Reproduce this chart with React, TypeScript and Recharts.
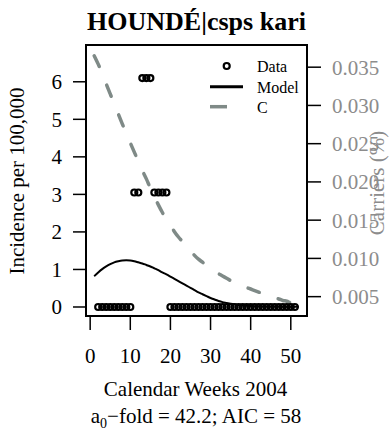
import React from "react";
import {
  ComposedChart,
  XAxis,
  YAxis,
  Line,
  Scatter,
  ReferenceArea,
  Customized,
} from "recharts";

const FONT = "'Liberation Serif', 'Times New Roman', Times, serif";
const GRAY_LINE = "#7f8a87";
const GRAY_TEXT = "#8c8c8c";

const weeks = [
  1, 2, 3, 4, 5, 6, 7, 8, 9, 10, 11, 12, 13, 14, 15, 16, 17, 18, 19, 20, 21, 22, 23, 24, 25, 26,
  27, 28, 29, 30, 31, 32, 33, 34, 35, 36, 37, 38, 39, 40, 41, 42, 43, 44, 45, 46, 47, 48, 49, 50,
  51, 52,
];
const modelValues = [
  0.82, 0.92, 1.01, 1.08, 1.14, 1.19, 1.22, 1.24, 1.245, 1.24, 1.22, 1.19, 1.16, 1.12, 1.08, 1.03,
  0.98, 0.92, 0.87, 0.81, 0.75, 0.69, 0.63, 0.57, 0.51, 0.45, 0.39, 0.34, 0.29, 0.24, 0.2, 0.16,
  0.13, 0.11, 0.09, 0.07, 0.05, 0.04, 0.03, 0.025, 0.02, 0.018, 0.015, 0.013, 0.012, 0.011, 0.01,
  0.009, 0.008, 0.008, 0.007, 0.007,
];
const carrierValues = [
  0.0365, 0.0354, 0.0342, 0.0328, 0.0315, 0.0302, 0.0289, 0.0276, 0.0263, 0.0251, 0.0239, 0.0227,
  0.0215, 0.0204, 0.0192, 0.0181, 0.017, 0.016, 0.0151, 0.0143, 0.0135, 0.0128, 0.0122, 0.0116,
  0.011, 0.0104, 0.0099, 0.0095, 0.0091, 0.0087, 0.0083, 0.008, 0.0077, 0.0074, 0.0071, 0.0069,
  0.0066, 0.0064, 0.0062, 0.006, 0.0058, 0.0056, 0.0054, 0.0052, 0.005, 0.0048, 0.0047, 0.0045,
  0.0044, 0.0042, 0.0041, 0.004,
];

const dataWeeks = [
  2, 3, 4, 5, 6, 7, 8, 9, 10, 11, 12, 13, 14, 15, 16, 17, 18, 19, 20, 21, 22, 23, 24, 25, 26, 27,
  28, 29, 30, 31, 32, 33, 34, 35, 36, 37, 38, 39, 40, 41, 42, 43, 44, 45, 46, 47, 48, 49, 50, 51,
];
const dataIncidence = [
  0, 0, 0, 0, 0, 0, 0, 0, 0, 3.05, 3.05, 6.1, 6.1, 6.1, 3.05, 3.05, 3.05, 3.05, 0, 0, 0, 0, 0, 0,
  0, 0, 0, 0, 0, 0, 0, 0, 0, 0, 0, 0, 0, 0, 0, 0, 0, 0, 0, 0, 0, 0, 0, 0, 0, 0,
];

const xTicks = [0, 10, 20, 30, 40, 50];
const leftTicks = [0, 1, 2, 3, 4, 5, 6];
const rightTicks = [0.005, 0.01, 0.015, 0.02, 0.025, 0.03, 0.035];

const X_DOMAIN: [number, number] = [-1.04, 54.04];
const L_DOMAIN: [number, number] = [-0.24, 6.98];
const R_DOMAIN: [number, number] = [0.00247, 0.0379];

const curveData = weeks.map((w, i) => ({ week: w, model: modelValues[i], carriers: carrierValues[i] }));
const pointData = dataWeeks.map((w, i) => ({ week: w, incidence: dataIncidence[i] }));

const OpenCircle = (props: any) => {
  const { cx, cy } = props;
  if (cx == null || cy == null) return null;
  return <circle cx={cx} cy={cy} r={3} fill="none" stroke="#000" strokeWidth={2.2} />;
};

const Annotations = () => (
  <g style={{ fontFamily: FONT }}>
    <text x={196.5} y={29.5} textAnchor="middle" fontSize={26} fontWeight="bold" fill="#000" style={{ fontFamily: FONT }}>
      HOUNDÉ|csps kari
    </text>
    <text x={195.5} y={396} textAnchor="middle" fontSize={21} fill="#000" style={{ fontFamily: FONT }}>
      Calendar Weeks 2004
    </text>
    <text x={196} y={423} textAnchor="middle" fontSize={21} fill="#000" style={{ fontFamily: FONT }}>
      a<tspan fontSize={14} dy={5}>0</tspan>
      <tspan dy={-5}>−fold = 42.2; AIC = 58</tspan>
    </text>
    <text
      x={24}
      y={181}
      textAnchor="middle"
      fontSize={21}
      fill="#000"
      transform="rotate(-90 24 181)"
      style={{ fontFamily: FONT }}
    >
      Incidence per 100,000
    </text>
    <text
      x={384}
      y={183}
      textAnchor="middle"
      fontSize={21}
      fill={GRAY_TEXT}
      transform="rotate(-90 384 183)"
      style={{ fontFamily: FONT }}
    >
      Carriers (%)
    </text>
    <circle cx={226.7} cy={66} r={3} fill="none" stroke="#000" strokeWidth={2.2} />
    <line x1={210} y1={86.7} x2={243} y2={86.7} stroke="#000" strokeWidth={3} />
    <line x1={210} y1={106.7} x2={227} y2={106.7} stroke={GRAY_LINE} strokeWidth={3.5} />
    <text x={257} y={71.5} fontSize={16} fill="#000" style={{ fontFamily: FONT }}>Data</text>
    <text x={257} y={92.5} fontSize={16} fill="#000" style={{ fontFamily: FONT }}>Model</text>
    <text x={257} y={112.5} fontSize={16} fill="#000" style={{ fontFamily: FONT }}>C</text>
  </g>
);

export default function App() {
  const tickStyle = { fontSize: 21, fontFamily: FONT, fill: "#000", style: { fontFamily: FONT } };
  return (
    <div style={{ position: "absolute", left: 0, top: 0, width: 391, height: 435, background: "#fff", fontFamily: FONT }}>
      <ComposedChart
        width={391}
        height={435}
        margin={{ top: 45, right: 0, bottom: 0, left: 0 }}
        style={{ fontFamily: FONT }}
      >
        <XAxis
          dataKey="week"
          type="number"
          domain={X_DOMAIN}
          ticks={xTicks}
          allowDataOverflow
          height={119}
          axisLine={false}
          tickLine={{ stroke: "#000", strokeWidth: 1.5 }}
          tickSize={14}
          tickMargin={18}
          tick={tickStyle}
          interval={0}
        />
        <YAxis
          yAxisId="left"
          type="number"
          domain={L_DOMAIN}
          ticks={leftTicks}
          allowDataOverflow
          width={86}
          axisLine={false}
          tickLine={{ stroke: "#000", strokeWidth: 1.5 }}
          tickSize={13}
          tickMargin={11}
          tick={tickStyle}
          interval={0}
        />
        <YAxis
          yAxisId="right"
          orientation="right"
          type="number"
          domain={R_DOMAIN}
          ticks={rightTicks}
          allowDataOverflow
          width={84}
          axisLine={false}
          tickLine={{ stroke: "#000", strokeWidth: 1.5 }}
          tickSize={14}
          tickMargin={11}
          tick={{ ...tickStyle, fill: GRAY_TEXT }}
          tickFormatter={(v: number) => v.toFixed(3)}
          interval={0}
        />
        <Line
          yAxisId="right"
          data={curveData}
          dataKey="carriers"
          type="monotone"
          stroke={GRAY_LINE}
          strokeWidth={3.5}
          strokeDasharray="12 20"
          strokeLinecap="round"
          dot={false}
          activeDot={false}
          isAnimationActive={false}
        />
        <Line
          yAxisId="left"
          data={curveData}
          dataKey="model"
          type="monotone"
          stroke="#000"
          strokeWidth={2}
          dot={false}
          activeDot={false}
          isAnimationActive={false}
        />
        <Scatter
          yAxisId="left"
          data={pointData}
          dataKey="incidence"
          shape={<OpenCircle />}
          isAnimationActive={false}
        />
        <ReferenceArea
          yAxisId="left"
          x1={X_DOMAIN[0]}
          x2={X_DOMAIN[1]}
          y1={L_DOMAIN[0]}
          y2={L_DOMAIN[1]}
          fill="none"
          fillOpacity={0}
          stroke="#000"
          strokeWidth={2}
          ifOverflow="visible"
        />
        <Customized component={<Annotations />} />
      </ComposedChart>
    </div>
  );
}
